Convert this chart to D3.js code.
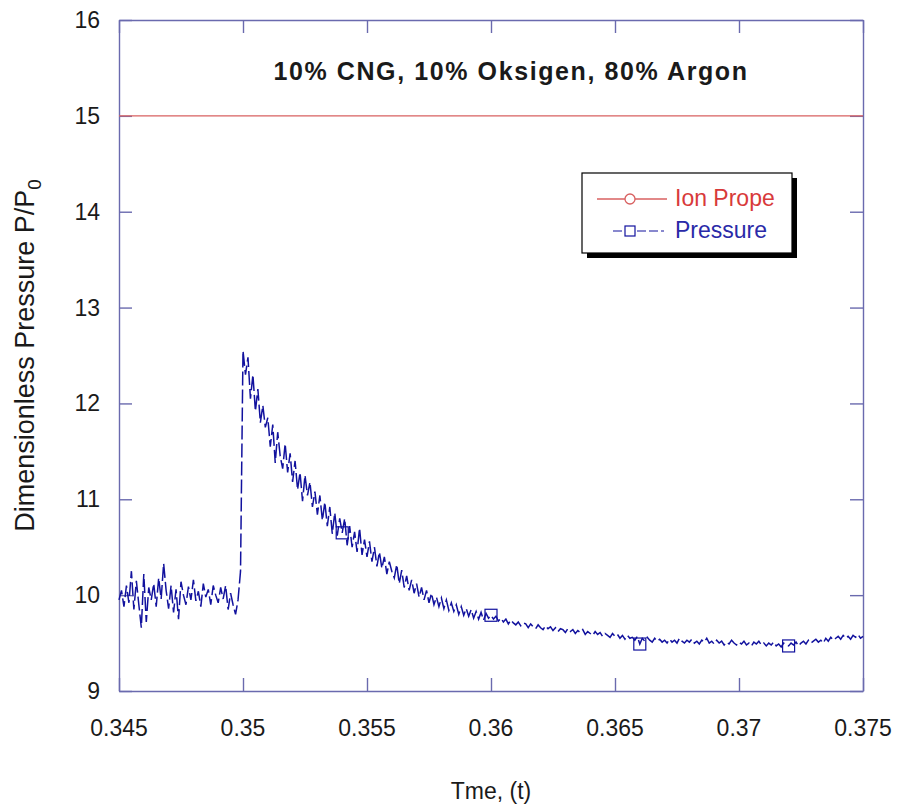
<!DOCTYPE html>
<html>
<head>
<meta charset="utf-8">
<script src="https://cdn.jsdelivr.net/npm/d3@7/dist/d3.min.js"></script>
<style>
  html, body { margin: 0; padding: 0; background: #fff; }
  svg { display: block; }
  text { font-family: "Liberation Sans", Arial, sans-serif; fill: #1a1a1a; }
</style>
</head>
<body>
<svg id="chart" width="899" height="810"></svg>
<script>
// Pressure trace sampled every 0.1 ms starting at t = 0.345
const sampleStart = 0.345;
const sampleStep = 0.0001;
const pressureValues = [
  9.95, 10.05, 9.88, 10.10, 9.92, 10.25, 9.85, 10.15, 9.90, 9.66,
  10.22, 9.72, 10.08, 9.95, 10.12, 9.88, 10.18, 9.96, 10.33, 10.05,
  9.86, 10.10, 9.82, 10.06, 9.75, 10.14, 10.00, 9.90, 10.09, 9.95,
  10.16, 9.94, 10.04, 9.88, 10.12, 9.98, 10.06, 9.90, 10.10, 10.00,
  9.92, 10.08, 9.96, 10.10, 9.85, 10.02, 9.90, 9.80, 9.95, 10.25,
  12.55, 12.30, 12.48, 12.05, 12.30, 11.92, 12.15, 11.80, 11.98, 11.75,
  11.85, 11.55, 11.78, 11.38, 11.70, 11.45, 11.32, 11.58, 11.28, 11.48,
  11.18, 11.40, 11.10, 11.28, 10.98, 11.25, 11.04, 11.18, 10.92, 11.08,
  10.84, 11.04, 10.78, 10.97, 10.72, 10.92, 10.64, 10.86, 10.62, 10.80,
  10.65, 10.80, 10.52, 10.72, 10.50, 10.66, 10.45, 10.70, 10.42, 10.58,
  10.40, 10.56, 10.35, 10.50, 10.30, 10.45, 10.28, 10.40, 10.22, 10.35,
  10.25, 10.18, 10.32, 10.12, 10.26, 10.08, 10.20, 10.05, 10.16, 10.02,
  10.12, 9.98, 10.08, 9.95, 10.05, 9.92, 10.02, 9.90, 9.98, 9.88,
  9.97, 9.86, 9.95, 9.84, 9.92, 9.83, 9.90, 9.80, 9.88, 9.79,
  9.86, 9.78, 9.85, 9.76, 9.83, 9.75, 9.82, 9.74, 9.81, 9.76,
  9.79,
  9.75, 9.78, 9.73, 9.76, 9.72, 9.75, 9.70, 9.74, 9.71, 9.69,
  9.72, 9.68, 9.71, 9.70, 9.66, 9.70, 9.67, 9.65, 9.69, 9.66,
  9.64, 9.68, 9.65, 9.67, 9.63, 9.66, 9.62, 9.65, 9.64, 9.61,
  9.65, 9.62, 9.64, 9.60, 9.63, 9.61, 9.64, 9.59, 9.62, 9.60,
  9.58, 9.62, 9.59, 9.61, 9.57, 9.60, 9.58, 9.56, 9.60, 9.57,
  9.59, 9.55, 9.58, 9.54, 9.58, 9.55, 9.56, 9.53, 9.57, 9.49,
  9.55, 9.52, 9.56, 9.53, 9.51, 9.55, 9.52, 9.54, 9.51, 9.53,
  9.50, 9.54, 9.51, 9.53, 9.50, 9.55, 9.52, 9.50, 9.53, 9.51,
  9.54, 9.50, 9.52, 9.49, 9.53, 9.51, 9.55, 9.50, 9.52, 9.49,
  9.53, 9.50, 9.52, 9.48, 9.51, 9.49, 9.53, 9.50, 9.48, 9.51,
  9.49, 9.52, 9.48, 9.50, 9.47, 9.51, 9.49, 9.52, 9.48, 9.50,
  9.47, 9.50, 9.48, 9.51, 9.47, 9.49, 9.46, 9.50, 9.48, 9.47,
  9.50, 9.48, 9.51, 9.47, 9.50, 9.52, 9.49, 9.53, 9.50, 9.52,
  9.54, 9.51, 9.53, 9.50, 9.55, 9.52, 9.56, 9.53, 9.55, 9.57,
  9.54, 9.58, 9.55, 9.57, 9.54, 9.58, 9.56, 9.59, 9.55, 9.57
];
// Times at which the pressure markers are placed
const pressureMarkerTimes = [0.354, 0.360, 0.366, 0.372];

// Ion probe signal (flat)
const ionTimes = [0.345, 0.375];
const ionValues = [15, 15];

// Axis ticks
const xTicks = [0.345, 0.35, 0.355, 0.36, 0.365, 0.37, 0.375];
const xTickLabels = ["0.345", "0.35", "0.355", "0.36", "0.365", "0.37", "0.375"];
const yTicks = [9, 10, 11, 12, 13, 14, 15, 16];
const yTickLabels = ["9", "10", "11", "12", "13", "14", "15", "16"];

const titleText = "10% CNG, 10% Oksigen, 80% Argon";
const legendLabels = ["Ion Prope", "Pressure"];

const pressure = pressureValues.map((v, i) => ({ t: sampleStart + i * sampleStep, v }));
const ion = ionTimes.map((t, i) => ({ t, v: ionValues[i] }));
const markers = pressureMarkerTimes.map(t => pressure[Math.round((t - sampleStart) / sampleStep)]);

const svg = d3.select("#chart");
const plot = { left: 119, right: 863, top: 20, bottom: 691 };
const frameColor = "#6a6aae";
const blue = "#12129e";
const red = "#d86060";

const x = d3.scaleLinear().domain([0.345, 0.375]).range([plot.left, plot.right]);
const y = d3.scaleLinear().domain([9, 16]).range([plot.bottom, plot.top]);

// Frame with inward ticks on all four sides
function styleAxis(g) {
  g.select(".domain").attr("stroke", frameColor).attr("stroke-width", 1.4);
  g.selectAll(".tick line").attr("stroke", frameColor).attr("stroke-width", 1.4);
  g.selectAll(".tick text").remove();
}
svg.append("g").attr("transform", `translate(0,${plot.bottom})`)
  .call(d3.axisBottom(x).tickValues(xTicks).tickSizeInner(-13).tickSizeOuter(0)).call(styleAxis);
svg.append("g").attr("transform", `translate(0,${plot.top})`)
  .call(d3.axisTop(x).tickValues(xTicks).tickSizeInner(-13).tickSizeOuter(0)).call(styleAxis);
svg.append("g").attr("transform", `translate(${plot.left},0)`)
  .call(d3.axisLeft(y).tickValues(yTicks).tickSizeInner(-13).tickSizeOuter(0)).call(styleAxis);
svg.append("g").attr("transform", `translate(${plot.right},0)`)
  .call(d3.axisRight(y).tickValues(yTicks).tickSizeInner(-13).tickSizeOuter(0)).call(styleAxis);

// Tick labels
svg.append("g").selectAll("text").data(xTicks).join("text")
  .attr("x", d => x(d)).attr("y", plot.bottom + 45)
  .attr("text-anchor", "middle").attr("font-size", 23)
  .text((d, i) => xTickLabels[i]);
svg.append("g").selectAll("text").data(yTicks).join("text")
  .attr("x", plot.left - 19).attr("y", d => y(d) + 8)
  .attr("text-anchor", "end").attr("font-size", 23)
  .text((d, i) => yTickLabels[i]);

// Axis titles
svg.append("text").attr("x", 491).attr("y", 799)
  .attr("text-anchor", "middle").attr("font-size", 23).text("Tme, (t)");
const yTitle = svg.append("text")
  .attr("transform", `translate(34,${(plot.top + plot.bottom) / 2}) rotate(-90)`)
  .attr("text-anchor", "middle").attr("font-size", 27);
yTitle.append("tspan").text("Dimensionless Pressure P/P");
yTitle.append("tspan").attr("font-size", 19).attr("dy", 7).text("0");

// Title
svg.append("text").attr("x", 511).attr("y", 80)
  .attr("text-anchor", "middle").attr("font-size", 25).attr("font-weight", "bold")
  .attr("letter-spacing", 1.6).text(titleText);

// Data lines
const line = d3.line().x(d => x(d.t)).y(d => y(d.v));
svg.append("path").datum(ion).attr("d", line)
  .attr("fill", "none").attr("stroke", red).attr("stroke-width", 1.3);
svg.append("path").datum(pressure).attr("d", line)
  .attr("fill", "none").attr("stroke", blue).attr("stroke-width", 1.5)
  .attr("stroke-dasharray", "14,4");
svg.append("g").selectAll("rect").data(markers).join("rect")
  .attr("x", d => x(d.t) - 6).attr("y", d => y(d.v) - 6)
  .attr("width", 12).attr("height", 12)
  .attr("fill", "none").attr("stroke", blue).attr("stroke-width", 1.2);

// Legend with drop shadow
const lg = svg.append("g");
lg.append("rect").attr("x", 587).attr("y", 178).attr("width", 210).attr("height", 80).attr("fill", "#000");
lg.append("rect").attr("x", 582).attr("y", 173).attr("width", 210).attr("height", 80)
  .attr("fill", "#fff").attr("stroke", "#000").attr("stroke-width", 1.2);
lg.append("line").attr("x1", 597).attr("x2", 667).attr("y1", 199).attr("y2", 199)
  .attr("stroke", red).attr("stroke-width", 1.3);
lg.append("circle").attr("cx", 630).attr("cy", 199).attr("r", 5)
  .attr("fill", "#fff").attr("stroke", red).attr("stroke-width", 1.3);
lg.append("line").attr("x1", 613).attr("x2", 664).attr("y1", 231).attr("y2", 231)
  .attr("stroke", blue).attr("stroke-width", 1.2).attr("stroke-dasharray", "9,3");
lg.append("rect").attr("x", 625).attr("y", 226).attr("width", 10).attr("height", 10)
  .attr("fill", "#fff").attr("stroke", blue).attr("stroke-width", 1.2);
lg.append("text").attr("x", 675).attr("y", 206).attr("font-size", 23)
  .style("fill", "#d83a3a").text(legendLabels[0]);
lg.append("text").attr("x", 675).attr("y", 238).attr("font-size", 23)
  .style("fill", "#2a2aa8").text(legendLabels[1]);
</script>
</body>
</html>
